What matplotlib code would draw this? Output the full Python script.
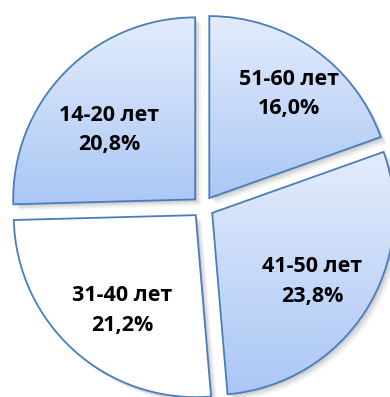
import numpy as np
import matplotlib
matplotlib.use("Agg")
import matplotlib.pyplot as plt
from matplotlib.colors import to_rgb
from matplotlib.patches import PathPatch
from matplotlib.transforms import Affine2D

# Dane: grupy wiekowe i udziały (%)
groups = ["51-60 лет", "41-50 лет", "31-40 лет", "14-20 лет"]
shares = [16.0, 23.8, 21.2, 20.8]
top_colors = ["#e3ecfc", "#e3ecfc", "#ffffff", "#e3ecfc"]
bottom_colors = ["#abc7f5", "#abc7f5", "#ffffff", "#abc7f5"]

labels = [f"{g}\n{s:.1f}%".replace(".", ",") for g, s in zip(groups, shares)]

W, H = 390, 397
fig = plt.figure(figsize=(W / 100, H / 100), dpi=100)
ax = fig.add_axes([0, 0, 1, 1])

R = 182
wedges, texts = ax.pie(shares, labels=labels, startangle=90, counterclock=False,
                       center=(203, H - 207), radius=R, explode=[0.06 * R] * 4,
                       labeldistance=0.72,
                       textprops=dict(fontsize=15.5, fontweight="bold",
                                      family=["Open Sans", "DejaVu Sans"],
                                      ha="center", va="center", linespacing=1.55),
                       wedgeprops=dict(edgecolor="#4a7ebb", linewidth=1.3))

# drobna korekta położenia etykiet (jak w Excelu)
label_shift = [(4, -3), (-10, 2), (14, 2), (8, -22)]
for t, (dx, dy) in zip(texts, label_shift):
    x, y = t.get_position()
    t.set_position((x + dx, y + dy))
    t.set_zorder(3)

for i, w in enumerate(wedges):
    path = w.get_path()
    # cień (rozmyty, przesunięty w prawo-dół)
    for k, a in zip([6, 4, 2], [0.05, 0.07, 0.09]):
        sh = PathPatch(path, transform=Affine2D().translate(k, -k) + ax.transData,
                       facecolor="black", edgecolor="none", alpha=a, zorder=0)
        ax.add_patch(sh)
    # gradient pionowy
    ext = path.get_extents()
    c0, c1 = np.array(to_rgb(top_colors[i])), np.array(to_rgb(bottom_colors[i]))
    t = np.linspace(0, 1, 256)[:, None, None]
    grad = c0 * (1 - t) + c1 * t
    im = ax.imshow(grad, extent=(ext.x0, ext.x1, ext.y0, ext.y1), origin="upper",
                   aspect="auto", zorder=1, interpolation="bilinear")
    im.set_clip_path(w)
    w.set_facecolor("none")
    w.set_zorder(2)

ax.set_xlim(0, W)
ax.set_ylim(0, H)
ax.axis("off")

fig.savefig("out.png", dpi=100)
